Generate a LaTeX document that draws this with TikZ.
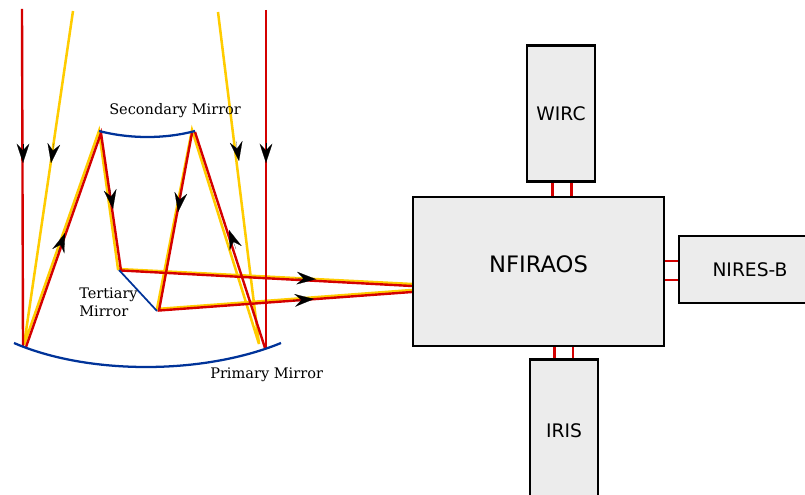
\documentclass[tikz,border=0pt]{standalone}
\usepackage{fontspec}
\setmainfont{DejaVu Serif}
\setsansfont{DejaVu Sans}
\usetikzlibrary{arrows.meta}

\definecolor{rayred}{rgb}{0.83,0,0}
\definecolor{rayyellow}{rgb}{1,0.8,0}
\definecolor{mirrorblue}{rgb}{0,0.2,0.6}
\definecolor{boxgrey}{rgb}{0.925,0.925,0.925}

\tikzset{
  redray/.style={draw=rayred,line width=1.8pt},
  yellowray/.style={draw=rayyellow,line width=1.9pt},
  mirror/.style={draw=mirrorblue,line width=1.7pt},
  flowtip/.style={-{Stealth[length=14.5pt,width=9.5pt,inset=5pt]},black,line width=0.1pt},
  link/.style={draw=rayred,line width=1.8pt},
  instr/.style={draw=black,fill=boxgrey,line width=1.8pt,inner sep=0pt,font=\sffamily\fontsize{14}{16}\selectfont},
  mirrorlabel/.style={inner sep=0pt,anchor=west,align=left,font=\fontsize{10.9}{13.5}\selectfont},
}

\begin{document}
\begin{tikzpicture}[x=0.75pt,y=0.75pt,yscale=-1,xscale=1]
\useasboundingbox (0,0) rectangle (805,495);
\clip (0,0) rectangle (805,495);

%Yellow rays
\draw [yellowray] (73,11) -- (24,345) -- (99,131) -- (118,269) -- (412,284) ;
\draw [yellowray] (218,12) -- (259,344) -- (192,130) -- (157,309) -- (412,290) ;
%Red rays
\draw [redray] (22,9) -- (23,346) ;
\draw [redray] (26,347) -- (101,133) -- (121,270.5) -- (412,286) ;
\draw [redray] (266,10) -- (266,348) ;
\draw [redray] (265,348) -- (195,132) ;
\draw [redray] (192,133) -- (159,310.5) -- (412,292) ;

%Mirrors
\draw [mirror] (14,343) .. controls (88,375) and (203,375) .. (281,343) ;
\draw [mirror] (99,131) .. controls (130,139) and (165,139) .. (195,131) ;
\draw [mirror,line width=1.3pt] (119,270) -- (157,311) ;

%Arrow heads along the rays
\foreach \ax/\ay/\bx/\by in {23/144/23/163,54/143/51/163,236/141/239/161,266/143/266/163,
  110/189/113/209,181/192/178/212,58/252/65/233,236/249/229/230,295/278/316/279.2,293/300.5/314/299}
  \draw [flowtip] (\ax,\ay) -- (\bx,\by) ;

%Instruments
\node [instr,minimum width=51pt,minimum height=102pt] (wirc) at (561,113.5) {\raisebox{-0.75pt}{WIRC}};
\node [instr,minimum width=188pt,minimum height=112pt,font=\sffamily\fontsize{17}{19}\selectfont] (nfiraos) at (538.5,271.5) {\raisebox{11.5pt}{NFIRAOS}};
\node [instr,minimum width=106.5pt,minimum height=50.5pt] (nires) at (750,269.5) {\raisebox{-4.5pt}{NIRES-B}};
\node [instr,minimum width=51pt,minimum height=107pt] (iris) at (564,431) {\raisebox{-0.75pt}{IRIS}};

%Links between instruments
\foreach \dx in {-6.4pt,7.9pt}
  \draw [link] ([xshift=\dx]wirc.south) -- ([xshift=\dx]wirc.south |- nfiraos.north) ;
\foreach \dx in {-7.1pt,6.8pt}
  \draw [link] ([xshift=\dx]iris.north) -- ([xshift=\dx]iris.north |- nfiraos.south) ;
\foreach \dy in {-6.4pt,7.9pt}
  \draw [link] ([yshift=\dy]nires.west) -- ([yshift=\dy]nires.west -| nfiraos.east) ;

% Text Node
\node [mirrorlabel] (secondary) at (109,110.5) {Secondary Mirror};
\node [mirrorlabel] (tertiary) at (79,302) {Tertiary\\Mirror};
\node [mirrorlabel] (primary) at (210,374.5) {Primary Mirror};

\end{tikzpicture}
\end{document}
